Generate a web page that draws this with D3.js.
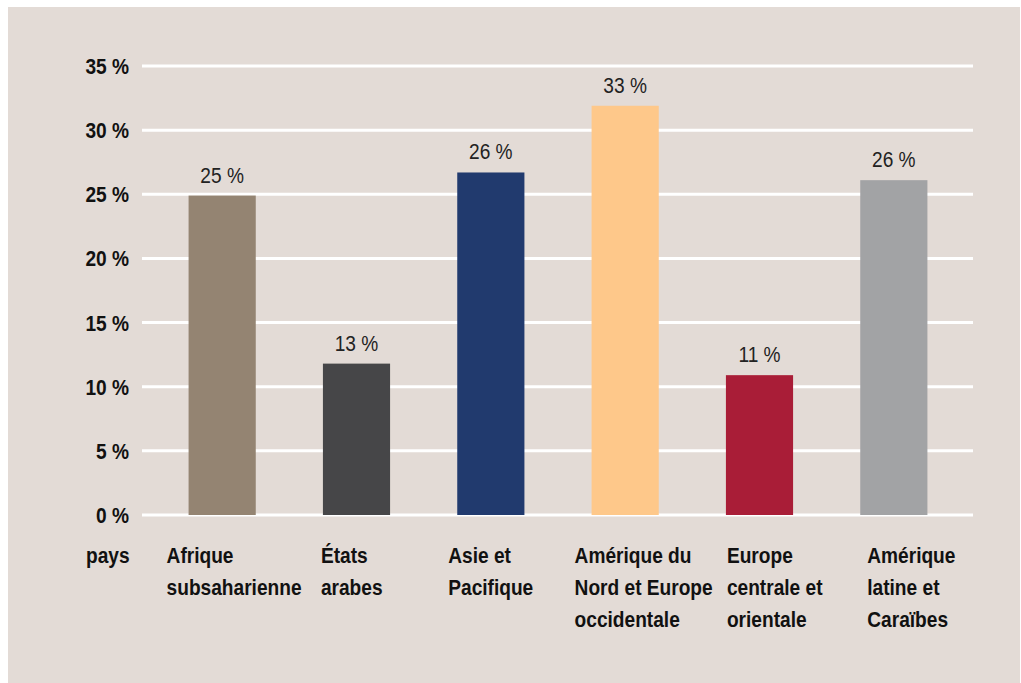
<!DOCTYPE html>
<html>
<head>
<meta charset="utf-8">
<script src="https://cdn.jsdelivr.net/npm/d3@7"></script>
<style>
  body { margin: 0; background: #ffffff; }
  svg { display: block; }
  text { font-family: "Liberation Sans", Arial, sans-serif; }
</style>
</head>
<body>
<svg id="chart"></svg>
<script>
// data
var categories = [
  ['Afrique', 'subsaharienne'],
  ['États', 'arabes'],
  ['Asie et', 'Pacifique'],
  ['Amérique du', 'Nord et Europe', 'occidentale'],
  ['Europe', 'centrale et', 'orientale'],
  ['Amérique', 'latine et', 'Caraïbes']
];
var values = [24.9, 11.8, 26.7, 31.9, 10.9, 26.1];
var valueLabels = ['25 %', '13 %', '26 %', '33 %', '11 %', '26 %'];
var colors = ['#948472', '#464648', '#213a6e', '#fec88a', '#a91d37', '#a2a3a5'];
var yTicks = [0, 5, 10, 15, 20, 25, 30, 35];

// label nudges relative to bar left edge (layout only)
var labelShift = [-22, -2, -9, -17, 1, 7];

var svgWidth = 1021;
var svgHeight = 683;
var narrow = 0.85;   // fake condensed face
var fontSize = 22.5;

var svg = d3.select('#chart')
  .attr('width', svgWidth)
  .attr('height', svgHeight);

// beige panel
svg.append('rect')
  .attr('x', 8)
  .attr('y', 7)
  .attr('width', 1012)
  .attr('height', 676)
  .attr('fill', '#e3dbd6');

var gridLeft = 142;
var gridRight = 973;

var xScale = d3.scaleBand()
  .domain(d3.range(categories.length))
  .range([155, 961])
  .paddingInner(0.5)
  .paddingOuter(0.25);

var yScale = d3.scaleLinear()
  .domain([0, 35])
  .range([515, 66]);

function place(x, y) {
  return 'translate(' + x + ',' + y + ') scale(' + narrow + ',1)';
}

// gridlines
svg.append('g')
  .selectAll('line')
  .data(yTicks)
  .enter().append('line')
    .attr('x1', gridLeft)
    .attr('x2', gridRight)
    .attr('y1', function(d) { return yScale(d); })
    .attr('y2', function(d) { return yScale(d); })
    .attr('stroke', '#ffffff')
    .attr('stroke-width', 3);

// y tick labels
svg.append('g')
  .selectAll('text')
  .data(yTicks)
  .enter().append('text')
    .attr('transform', function(d) { return place(129, yScale(d) + 8); })
    .attr('text-anchor', 'end')
    .attr('font-size', fontSize)
    .attr('font-weight', 'bold')
    .attr('fill', '#111')
    .text(function(d) { return d + ' %'; });

// bars
svg.append('g')
  .selectAll('rect')
  .data(values)
  .enter().append('rect')
    .attr('x', function(d, i) { return xScale(i); })
    .attr('y', function(d) { return yScale(d); })
    .attr('width', xScale.bandwidth())
    .attr('height', function(d) { return yScale(0) - yScale(d); })
    .attr('fill', function(d, i) { return colors[i]; });

// value labels
svg.append('g')
  .selectAll('text')
  .data(values)
  .enter().append('text')
    .attr('transform', function(d, i) {
      return place(xScale(i) + xScale.bandwidth() / 2, yScale(d) - 13);
    })
    .attr('text-anchor', 'middle')
    .attr('font-size', fontSize)
    .attr('fill', '#222')
    .text(function(d, i) { return valueLabels[i]; });

// category labels
svg.append('text')
  .attr('transform', place(86, 563))
  .attr('font-size', fontSize)
  .attr('font-weight', 'bold')
  .attr('fill', '#111')
  .text('pays');

var catText = svg.append('g')
  .selectAll('text')
  .data(categories)
  .enter().append('text')
    .attr('transform', function(d, i) { return place(xScale(i) + labelShift[i], 563); })
    .attr('font-size', fontSize)
    .attr('font-weight', 'bold')
    .attr('fill', '#111');

catText.selectAll('tspan')
  .data(function(d) { return d; })
  .enter().append('tspan')
    .attr('x', 0)
    .attr('dy', function(d, j) { return j === 0 ? 0 : 32; })
    .text(function(d) { return d; });
</script>
</body>
</html>
